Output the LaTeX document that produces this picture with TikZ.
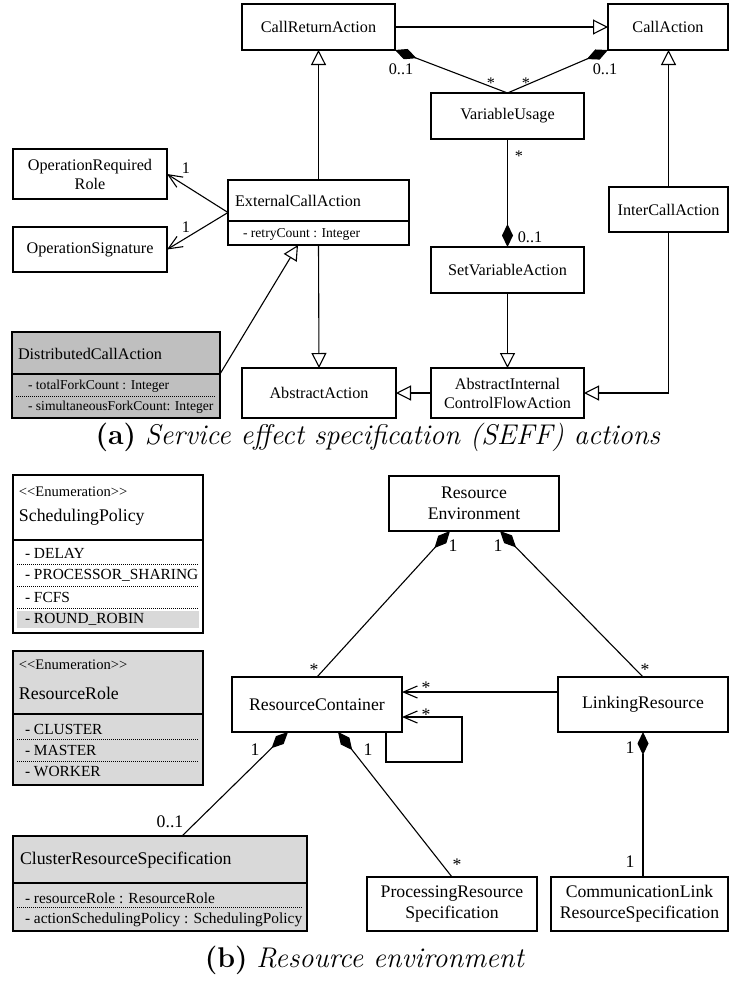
\documentclass[tikz,border=0pt]{standalone}
\usepackage{fontspec}
\newfontfamily\umlfont{Liberation Serif}
\usetikzlibrary{arrows.meta,calc}
\definecolor{darkfill}{HTML}{BFBFBF}
\definecolor{lightfill}{HTML}{D9D9D9}
\begin{document}
\begin{tikzpicture}[x=1pt,y=-1pt,
  every node/.style={inner sep=0pt, outer sep=0pt},
  line/.style={line width=1.1pt},
  cls/.style={draw, line width=1.1pt, rectangle, align=center, fill=white,
    font=\umlfont\fontsize{16.2}{19}\selectfont},
  clsb/.style={cls, font=\umlfont\fontsize{17.7}{21}\selectfont},
  frame/.style={draw, line width=1.1pt, rectangle},
  cname/.style={anchor=west, font=\umlfont\fontsize{16.2}{19}\selectfont},
  cnameb/.style={anchor=west, font=\umlfont\fontsize{17.8}{21}\selectfont},
  attr/.style={anchor=west, font=\umlfont\fontsize{13.6}{16}\selectfont},
  attrb/.style={anchor=west, font=\umlfont\fontsize{15.4}{18}\selectfont},
  stereo/.style={anchor=west, font=\umlfont\fontsize{14.6}{17}\selectfont},
  mult/.style={font=\umlfont\fontsize{16.2}{19}\selectfont},
  multb/.style={font=\umlfont\fontsize{17.7}{21}\selectfont},
  sepline/.style={line width=0.9pt, dash pattern=on 1pt off 1pt},
  gen/.style={-{Triangle[length=15pt,width=15pt,fill=white,line width=1.1pt]}},
  nav/.style={-{Straight Barb[length=14pt,width=12pt,line width=1.1pt]}},
  comp/.style={{Diamond[length=23pt,width=11pt]}-},
  capt/.style={font=\fontsize{28.5}{32}\selectfont}
]
\useasboundingbox (0,0) rectangle (729,983);
\fill[white] (0,0) rectangle (729,983);

% ---------- (a) SEFF actions ----------
\node[cls, minimum width=153pt, minimum height=46pt] (crA) at (318.5,27) {CallReturnAction};
\node[cls, minimum width=120pt, minimum height=46pt] (cA) at (668,27) {CallAction};
\node[cls, minimum width=153pt, minimum height=46pt] (vu) at (507.5,116) {VariableUsage};
\node[cls, minimum width=153pt, minimum height=46pt] (sva) at (507.5,270) {SetVariableAction};
\node[cls, minimum width=153pt, minimum height=50pt] (aicf) at (507.5,393) {AbstractInternal\\ControlFlowAction};
\node[cls, minimum width=154pt, minimum height=50pt] (aa) at (319,393) {AbstractAction};
\node[cls, minimum width=119pt, minimum height=45pt] (ica) at (668.5,209.5) {InterCallAction};
\node[cls, minimum width=154pt, minimum height=50pt] (orr) at (90,174) {OperationRequired\\Role};
\node[cls, minimum width=154pt, minimum height=45pt] (os) at (90,249.5) {OperationSignature};

% ExternalCallAction with one attribute
\node[frame, fill=white, minimum width=181pt, minimum height=65pt] (eca) at (318.5,212.5) {};
\draw[line] ([yshift=-41pt]eca.north west) -- ([yshift=-41pt]eca.north east);
\node[cname] (ecaName) at (235,201) {ExternalCallAction};
\node[attr] (ecaAttr) at (243,234) {- retryCount : Integer};

% DistributedCallAction with two attributes
\node[frame, fill=darkfill, minimum width=208pt, minimum height=86pt] (dca) at (116,375) {};
\draw[line] ([yshift=-42pt]dca.north west) -- ([yshift=-42pt]dca.north east);
\draw[sepline] ([xshift=4pt,yshift=-64pt]dca.north west) -- ([xshift=-4pt,yshift=-64pt]dca.north east);
\node[cname] (dcaName) at (18,354) {DistributedCallAction};
\node[attr] (dcaAttrA) at (28,386) {- totalForkCount : Integer};
\node[attr] (dcaAttrB) at (28,407) {- simultaneousForkCount: Integer};
\coordinate (dcaSep) at ([yshift=-42pt]dca.north east);

% connectors (a)
\draw[line, gen] (crA.east) -- (cA.west);
\draw[line, comp] (crA.south east) -- (vu.north);
\draw[line, comp] (cA.south west) -- (vu.north);
\draw[line, gen] (eca.north) -- (crA.south);
\draw[line, gen] (eca.south) -- (aa.north);
\draw[line, nav] (eca.west) -- (orr.east);
\draw[line, nav] (eca.west) -- (os.east);
\draw[line, gen] (dcaSep) -- ([xshift=70pt]eca.south west);
\draw[line, comp] (sva.north) -- (vu.south);
\draw[line, gen] (sva.south) -- (aicf.north);
\draw[line, gen] (aicf.west) -- (aa.east);
\draw[line, gen] (ica.north) -- (ica.north |- cA.south);
\draw[line, gen] (ica.south) |- (aicf.east);

% multiplicities (a)
\node[mult] (m1) at (401,69) {0..1};
\node[mult] (m2) at (605,69) {0..1};
\node[mult] (m3) at (491,83) {*};
\node[mult] (m4) at (526,83) {*};
\node[mult] (m5) at (519,156) {*};
\node[mult] (m6) at (530,237) {0..1};
\node[mult] (m7) at (186,168) {1};
\node[mult] (m8) at (186,227) {1};

\node[capt] (captA) at (378,437) {\textbf{(a)} \textit{Service effect specification (SEFF) actions}};

% ---------- (b) Resource environment ----------
% SchedulingPolicy enumeration
\node[frame, fill=white, minimum width=190pt, minimum height=158pt] (sp) at (108,554) {};
\draw[line] ([yshift=-65pt]sp.north west) -- ([yshift=-65pt]sp.north east);
\fill[lightfill] (17,611) rectangle (199,628);
\draw[sepline] (17,564) -- (199,564);
\draw[sepline] (17,586) -- (199,586);
\draw[sepline] (17,608) -- (199,608);
\node[stereo] (spSt) at (19,492) {<<Enumeration>>};
\node[cnameb] (spName) at (19,517) {SchedulingPolicy};
\node[attrb] (spA) at (25,553) {- DELAY};
\node[attrb] (spB) at (25,575) {- PROCESSOR\_SHARING};
\node[attrb] (spC) at (25,597) {- FCFS};
\node[attrb] (spD) at (25,619) {- ROUND\_ROBIN};

% ResourceRole enumeration
\node[frame, fill=lightfill, minimum width=190pt, minimum height=134pt] (rr) at (108,718) {};
\draw[line] ([yshift=-63pt]rr.north west) -- ([yshift=-63pt]rr.north east);
\draw[sepline] (17,739) -- (199,739);
\draw[sepline] (17,761) -- (199,761);
\node[stereo] (rrSt) at (19,665) {<<Enumeration>>};
\node[cnameb] (rrName) at (19,693) {ResourceRole};
\node[attrb] (rrA) at (25,729) {- CLUSTER};
\node[attrb] (rrB) at (25,750) {- MASTER};
\node[attrb] (rrC) at (25,772) {- WORKER};

% ClusterResourceSpecification
\node[frame, fill=lightfill, minimum width=294pt, minimum height=95pt] (crs) at (160,883.5) {};
\draw[line] ([yshift=-47pt]crs.north west) -- ([yshift=-47pt]crs.north east);
\draw[sepline] (17,907) -- (303,907);
\node[cnameb] (crsName) at (20,860) {ClusterResourceSpecification};
\node[attrb] (crsA) at (25,898) {- resourceRole : ResourceRole};
\node[attrb] (crsB) at (25,920) {- actionSchedulingPolicy : SchedulingPolicy};

\node[clsb, minimum width=170pt, minimum height=55pt] (re) at (474,503.5) {Resource\\Environment};
\node[clsb, minimum width=170pt, minimum height=55pt] (rc) at (317,704.5) {ResourceContainer};
\node[clsb, minimum width=170pt, minimum height=55pt] (lr) at (643,704.5) {LinkingResource};
\node[clsb, minimum width=170pt, minimum height=54pt] (prs) at (452,904) {ProcessingResource\\Specification};
\node[clsb, minimum width=177pt, minimum height=54pt] (clrs) at (639.5,904) {CommunicationLink\\ResourceSpecification};

% connectors (b)
\draw[line, comp] ([xshift=61pt]re.south west) -- (rc.north);
\draw[line, comp] ([xshift=111pt]re.south west) -- (lr.north);
\draw[line, nav] ([yshift=-15pt]lr.north west) -- ([yshift=-15pt]rc.north east);
\draw[line, nav] ([xshift=-16pt]rc.south east) -- ++(0,30) -- ++(76,0) |- ([yshift=-40pt]rc.north east);
\draw[line, comp] ([xshift=56pt]rc.south west) -- ([xshift=169pt]crs.north west);
\draw[line, comp] ([xshift=106pt]rc.south west) -- (prs.north);
\draw[line, comp] (lr.south) -- (lr.south |- clrs.north);

% multiplicities (b)
\node[multb] (n1) at (453,546) {1};
\node[multb] (n2) at (498,546) {1};
\node[multb] (n3) at (314,670) {*};
\node[multb] (n4) at (645,670) {*};
\node[multb] (n5) at (426,688) {*};
\node[multb] (n6) at (426,715) {*};
\node[multb] (n7) at (255,750) {1};
\node[multb] (n8) at (170,822) {0..1};
\node[multb] (n9) at (368,750) {1};
\node[multb] (n10) at (457,865) {*};
\node[multb] (n11) at (630,748) {1};
\node[multb] (n12) at (630,862) {1};

\node[capt] (captB) at (365,960) {\textbf{(b)} \textit{Resource environment}};
\end{tikzpicture}
\end{document}
